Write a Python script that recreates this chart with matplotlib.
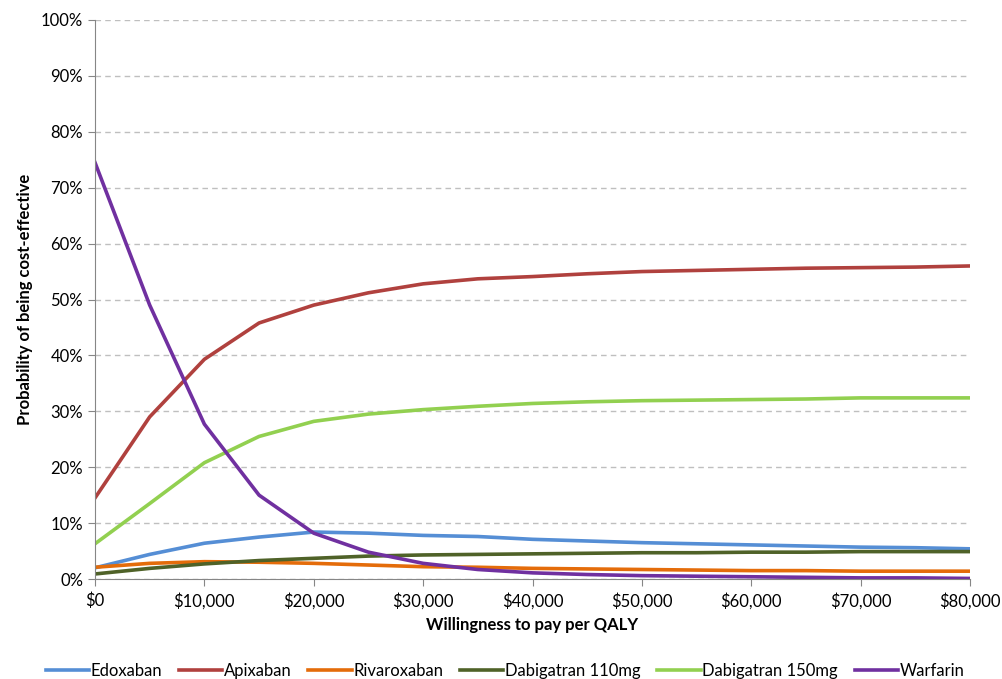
import matplotlib
matplotlib.use("Agg")
import matplotlib.pyplot as plt
from matplotlib.ticker import FuncFormatter, MultipleLocator

plt.rcParams["font.family"] = ["Lato", "DejaVu Sans"]

wtp = list(range(0, 80001, 5000))

edoxaban = [2.0, 4.4, 6.4, 7.5, 8.4, 8.2, 7.8, 7.6, 7.1, 6.8, 6.5, 6.3, 6.1, 5.9, 5.7, 5.6, 5.4]
apixaban = [14.5, 29.0, 39.3, 45.8, 49.0, 51.2, 52.8, 53.7, 54.1, 54.6, 55.0, 55.2, 55.4, 55.6, 55.7, 55.8, 56.0]
rivaroxaban = [2.1, 2.8, 3.1, 3.0, 2.8, 2.5, 2.2, 2.1, 1.9, 1.8, 1.7, 1.6, 1.5, 1.5, 1.4, 1.4, 1.4]
dabigatran110 = [0.9, 1.9, 2.7, 3.3, 3.7, 4.1, 4.3, 4.4, 4.5, 4.6, 4.7, 4.7, 4.8, 4.8, 4.9, 4.9, 4.9]
dabigatran150 = [6.3, 13.5, 20.8, 25.5, 28.2, 29.5, 30.3, 30.9, 31.4, 31.7, 31.9, 32.0, 32.1, 32.2, 32.4, 32.4, 32.4]
warfarin = [74.5, 49.0, 27.7, 15.0, 8.2, 4.8, 2.8, 1.7, 1.1, 0.8, 0.6, 0.5, 0.4, 0.3, 0.2, 0.2, 0.1]

series = [
    ("Edoxaban", edoxaban, "#558ED5"),
    ("Apixaban", apixaban, "#B0413E"),
    ("Rivaroxaban", rivaroxaban, "#E46C0A"),
    ("Dabigatran 110mg", dabigatran110, "#4F6228"),
    ("Dabigatran 150mg", dabigatran150, "#92D050"),
    ("Warfarin", warfarin, "#7030A0"),
]

fig = plt.figure(figsize=(10.02, 6.79), dpi=100)
ax = fig.add_axes([95 / 1002, 1 - 579 / 679, 875 / 1002, 559 / 679])

for name, vals, col in series:
    ax.plot(wtp, vals, color=col, linewidth=2.6, label=name, solid_joinstyle="round")

ax.set_xlim(0, 80000)
ax.set_ylim(0, 100)
ax.xaxis.set_major_locator(MultipleLocator(10000))
ax.yaxis.set_major_locator(MultipleLocator(10))
ax.xaxis.set_major_formatter(FuncFormatter(lambda v, p: "${:,.0f}".format(v)))
ax.yaxis.set_major_formatter(FuncFormatter(lambda v, p: "{:.0f}%".format(v)))
ax.grid(axis="y", color="#BFBFBF", linestyle=(0, (4, 3)), linewidth=1)
ax.set_axisbelow(True)
for s in ["top", "right"]:
    ax.spines[s].set_visible(False)
for s in ["left", "bottom"]:
    ax.spines[s].set_color("#868686")
ax.tick_params(colors="#868686", labelcolor="black", labelsize=12, length=5)
ax.tick_params(axis="x", pad=5)

ax.set_xlabel("Willingness to pay per QALY", fontsize=12, fontweight="bold", labelpad=5)
ax.set_ylabel("Probability of being cost-effective", fontsize=12, fontweight="bold", labelpad=6)

fig.legend(loc="center", bbox_to_anchor=(505 / 1002, 1 - 671 / 679), ncol=6, frameon=False,
           fontsize=12, handlelength=2.6, handletextpad=0.1, columnspacing=1.0)

fig.savefig("out.png", dpi=100)
